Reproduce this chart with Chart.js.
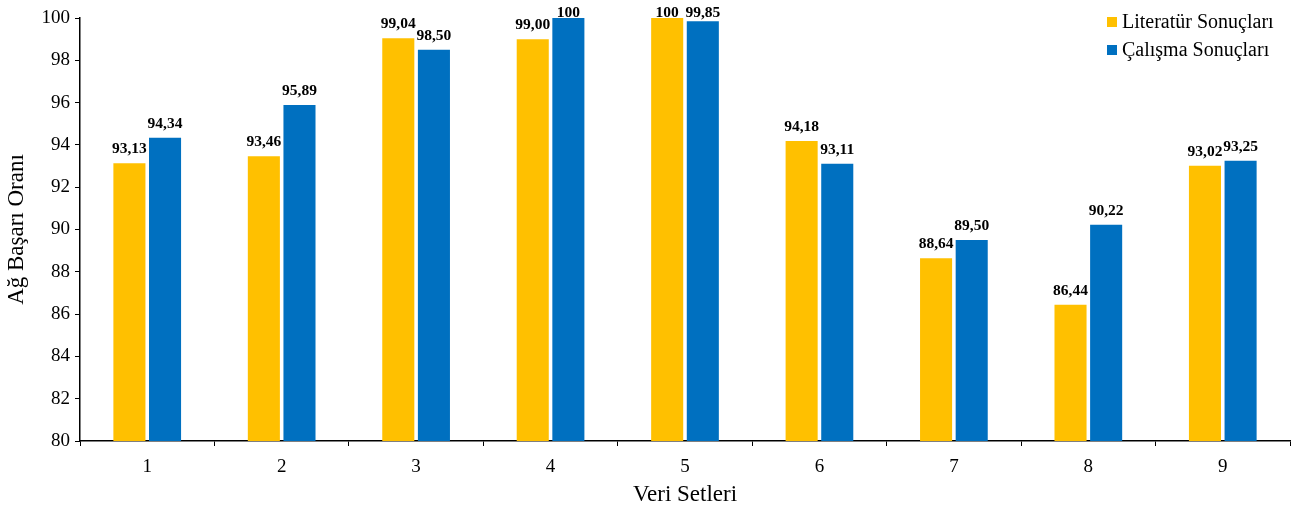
<!DOCTYPE html>
<html>
<head>
<meta charset="utf-8">
<script src="https://cdn.jsdelivr.net/npm/chart.js@4/dist/chart.umd.min.js"></script>
<style>
  html, body { margin: 0; padding: 0; background: #fff; }
  #wrap { width: 1293px; height: 509px; }
</style>
</head>
<body>
<div id="wrap"><canvas id="chart"></canvas></div>
<script>
// Data
const categories = ['1', '2', '3', '4', '5', '6', '7', '8', '9'];
const literatur = [93.13, 93.46, 99.04, 99.00, 100, 94.18, 88.64, 86.44, 93.02];
const calisma = [94.34, 95.89, 98.50, 100, 99.85, 93.11, 89.50, 90.22, 93.25];
const yTicks = [80, 82, 84, 86, 88, 90, 92, 94, 96, 98, 100];

const FONT = "'Liberation Serif', 'Times New Roman', serif";

function fmt(v) {
  if (v === 100) return '100';
  return v.toFixed(2).replace('.', ',');
}

// value labels above bars (kept inside the top of the canvas)
const barLabels = {
  id: 'barLabels',
  afterDatasetsDraw(chart) {
    const ctx = chart.ctx;
    ctx.save();
    ctx.font = 'bold 15.5px ' + FONT;
    ctx.fillStyle = '#000';
    ctx.textAlign = 'center';
    ctx.textBaseline = 'alphabetic';
    chart.data.datasets.forEach((ds, i) => {
      chart.getDatasetMeta(i).data.forEach((bar, j) => {
        const y = Math.max(bar.y - 10, 17);
        ctx.fillText(fmt(ds.data[j]), bar.x, y);
      });
    });
    ctx.restore();
  }
};

// legend inside the plot, top right
const innerLegend = {
  id: 'innerLegend',
  afterDraw(chart) {
    const ctx = chart.ctx;
    ctx.save();
    ctx.font = '20px ' + FONT;
    ctx.textBaseline = 'middle';
    ctx.textAlign = 'left';
    chart.data.datasets.forEach((ds, i) => {
      const y = 22 + i * 28;
      ctx.fillStyle = ds.backgroundColor;
      ctx.fillRect(1107, y - 5, 10, 10);
      ctx.fillStyle = '#000';
      ctx.fillText(ds.label, 1122, y + 1);
    });
    ctx.restore();
  }
};

const ctx = document.getElementById('chart').getContext('2d');
new Chart(ctx, {
  type: 'bar',
  data: {
    labels: categories,
    datasets: [{
      label: 'Literatür Sonuçları',
      data: literatur,
      backgroundColor: '#FFC000',
      categoryPercentage: 0.53,
      barPercentage: 0.9
    }, {
      label: 'Çalışma Sonuçları',
      data: calisma,
      backgroundColor: '#0070C0',
      categoryPercentage: 0.53,
      barPercentage: 0.9
    }]
  },
  options: {
    responsive: true,
    maintainAspectRatio: false,
    animation: false,
    layout: { padding: { top: 18, right: 3, left: 0, bottom: 0 } },
    plugins: {
      legend: { display: false },
      tooltip: { enabled: false }
    },
    scales: {
      x: {
        grid: { display: true, drawOnChartArea: false, drawTicks: true, tickLength: 5, color: '#000', offset: true },
        border: { display: true, color: '#000', width: 1.5 },
        ticks: { color: '#000', font: { family: FONT, size: 19 }, padding: 10 },
        title: { display: true, text: 'Veri Setleri', color: '#000', font: { family: FONT, size: 23 }, padding: { top: 4, bottom: 0 } },
        afterFit(scale) { scale.height = 68; }
      },
      y: {
        min: 80,
        max: 100,
        afterBuildTicks(scale) { scale.ticks = yTicks.map(v => ({ value: v })); },
        grid: { display: true, drawOnChartArea: false, drawTicks: true, tickLength: 5, color: '#000' },
        border: { display: true, color: '#000', width: 1.5 },
        ticks: { color: '#000', font: { family: FONT, size: 19 }, padding: 5 },
        title: { display: true, text: 'Ağ Başarı Oranı', color: '#000', font: { family: FONT, size: 23 }, padding: { top: 3, bottom: 0 } },
        afterFit(scale) { scale.width = 80; }
      }
    }
  },
  plugins: [barLabels, innerLegend]
});
</script>
</body>
</html>
